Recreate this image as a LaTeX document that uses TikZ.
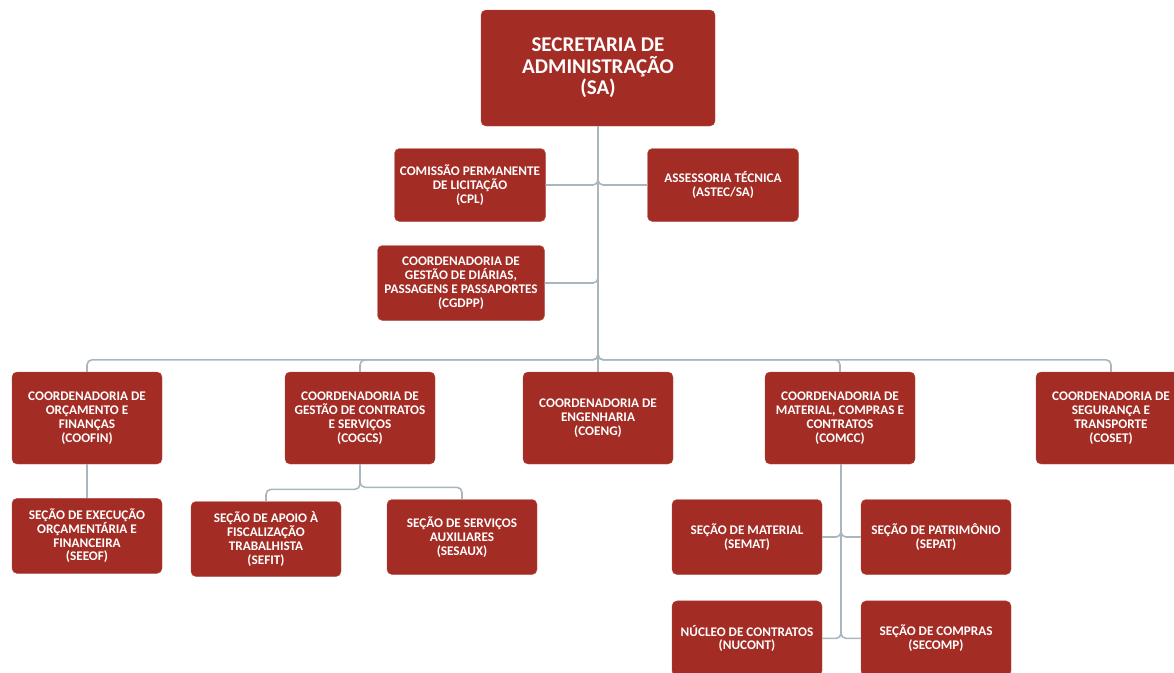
\documentclass[tikz,border=0pt]{standalone}
\usepackage{fontspec}
\setmainfont{Carlito}
\usetikzlibrary{positioning}
\definecolor{boxred}{RGB}{163,44,37}
\definecolor{linkgray}{RGB}{170,182,190}
\tikzset{
  unit/.style   = {shape=rectangle, rounded corners=5pt,
                   fill=boxred, draw=boxred!85!white, align=center,
                   text=white, inner sep=2pt,
                   font=\bfseries\fontsize{13.2}{13.8}\selectfont},
  coord/.style  = {unit, minimum width=150pt, minimum height=92pt},
  secao/.style  = {unit, minimum width=150pt, minimum height=75pt},
  root/.style   = {unit, minimum width=234pt, minimum height=116pt,
                   font=\bfseries\fontsize{21}{21.5}\selectfont},
  link/.style   = {draw=linkgray, line width=1.6pt, rounded corners=5pt}
}

\begin{document}
\begin{tikzpicture}[x=1pt,y=-1pt]
\useasboundingbox (0,0) rectangle (1174,672);
% top
\node [root] (sa) at (598,68) {SECRETARIA DE\\ADMINISTRAÇÃO\\(SA)};
\node [unit, minimum width=151pt, minimum height=73pt] (cpl) at (470,185)
  {COMISSÃO PERMANENTE\\DE LICITAÇÃO\\(CPL)};
\node [unit, minimum width=151pt, minimum height=73pt] (astec) at (723,185)
  {ASSESSORIA TÉCNICA\\(ASTEC/SA)};
\node [unit, minimum width=167pt, minimum height=75pt] (cgdpp) at (461,283)
  {COORDENADORIA DE\\GESTÃO DE DIÁRIAS,\\PASSAGENS E PASSAPORTES\\(CGDPP)};
% coordenadorias
\node [coord] (coofin) at (87,418) {COORDENADORIA DE\\ORÇAMENTO E\\FINANÇAS\\(COOFIN)};
\node [coord] (cogcs) at (360,418) {COORDENADORIA DE\\GESTÃO DE CONTRATOS\\E SERVIÇOS\\(COGCS)};
\node [coord] (coeng) at (598,418) {COORDENADORIA DE\\ENGENHARIA\\(COENG)};
\node [coord] (comcc) at (840,418) {COORDENADORIA DE\\MATERIAL, COMPRAS E\\CONTRATOS\\(COMCC)};
\node [coord] (coset) at (1111,418) {COORDENADORIA DE\\SEGURANÇA E\\TRANSPORTE\\(COSET)};
% secoes
\node [secao, below=34pt of coofin] (seeof) {SEÇÃO DE EXECUÇÃO\\ORÇAMENTÁRIA E\\FINANCEIRA\\(SEEOF)};
\node [secao] (sefit) at (266,539) {SEÇÃO DE APOIO À\\FISCALIZAÇÃO\\TRABALHISTA\\(SEFIT)};
\node [secao] (sesaux) at (462,537) {SEÇÃO DE SERVIÇOS\\AUXILIARES\\(SESAUX)};
\node [secao] (semat) at (747,537) {SEÇÃO DE MATERIAL\\(SEMAT)};
\node [secao] (sepat) at (936,537) {SEÇÃO DE PATRIMÔNIO\\(SEPAT)};
\node [secao, below=26pt of semat] (nucont) {NÚCLEO DE CONTRATOS\\(NUCONT)};
\node [secao, below=26pt of sepat] (secomp) {SEÇÃO DE COMPRAS\\(SECOMP)};

\draw [link] (sa.south) |- (cpl.east);
\draw [link] (sa.south) |- (astec.west);
\draw [link] (sa.south) |- (cgdpp.east);
\foreach \n in {coofin,cogcs,comcc,coset}
  \draw [link] (sa.south) |- ([yshift=12pt]\n.north) -- (\n.north);
\draw [link] (sa.south) -- (coeng.north);
\draw [link] (coofin) -- (seeof);
\foreach \n in {sefit,sesaux}
  \draw [link] (cogcs.south) |- ([yshift=12pt]\n.north) -- (\n.north);
\foreach \n in {semat,nucont}
  \draw [link] ([xshift=1pt]comcc.south) |- (\n.east);
\foreach \n in {sepat,secomp}
  \draw [link] ([xshift=1pt]comcc.south) |- (\n.west);
\end{tikzpicture}
\end{document}
